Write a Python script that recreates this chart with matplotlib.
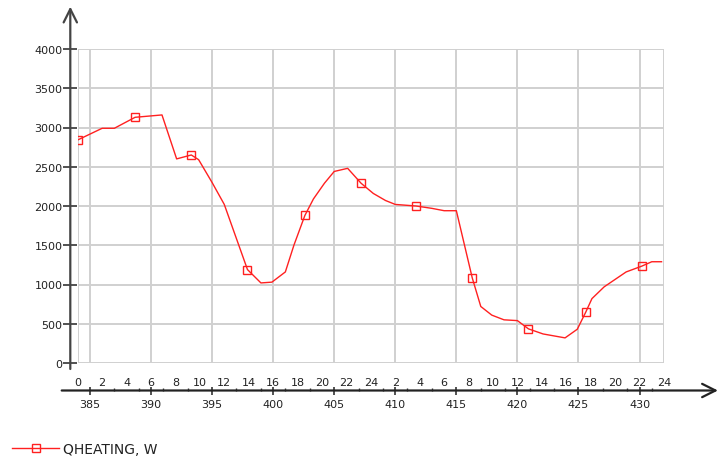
import matplotlib.pyplot as plt
from matplotlib.ticker import MultipleLocator, FixedLocator

# data (day, QHEATING in W)
days = [384.05, 386.0, 387.0, 388.7, 390.9, 392.1, 393.3, 393.9, 395.0, 396.0,
        396.8, 397.9, 399.0, 399.9, 401.0, 401.7, 402.6, 403.3, 404.2, 405.0,
        406.1, 407.2, 408.2, 409.2, 410.0, 411.7, 413.0, 414.0, 415.0, 416.3,
        417.0, 417.9, 418.9, 420.0, 420.9, 422.1, 423.9, 424.9, 425.6, 426.1,
        427.1, 428.9, 430.2, 431.0, 431.8]
qheating = [2845, 2990, 2990, 3130, 3160, 2600, 2650, 2590, 2300, 2020,
            1670, 1190, 1020, 1030, 1160, 1500, 1880, 2090, 2290, 2440,
            2480, 2290, 2160, 2070, 2020, 2000, 1970, 1940, 1940, 1085,
            720, 610, 550, 540, 435, 370, 320, 430, 650, 820,
            970, 1160, 1235, 1290, 1290]
marker_idx = [0, 3, 6, 11, 16, 21, 25, 29, 34, 38, 42]

day_ticks = list(range(385, 431, 5))
hour_pos = list(range(384, 433, 2))
hour_labels = ['0'] + [str((d - 385) % 24 + 1) for d in hour_pos[1:]]

W, H = 720, 460
fig = plt.figure(figsize=(7.2, 4.6), dpi=100)
ax = fig.add_axes([77.7 / W, 1 - 364 / H, (664 - 77.7) / W, (364 - 50) / H])

ax.plot(days, qheating, color='#ff2020', lw=1.0, marker='s', markersize=6,
        mfc='none', mec='#ff2020', mew=1.0, markevery=marker_idx,
        label='QHEATING, W', zorder=3)

ax.set_xlim(384, 432)
ax.set_ylim(0, 4000)

grid_c = '#d0d0d0'
ax.yaxis.set_major_locator(MultipleLocator(500))
ax.xaxis.set_major_locator(FixedLocator(day_ticks))
ax.xaxis.set_minor_locator(FixedLocator(list(range(385, 432, 2))))
ax.grid(True, which='major', color=grid_c, lw=1.4)
ax.axvline(384, color=grid_c, lw=1.4)
ax.axvline(432, color=grid_c, lw=1.4)

for s in ['top', 'right', 'left', 'bottom']:
    ax.spines[s].set_visible(False)
ax.spines['left'].set_position(('outward', 7.4 * 0.72))
ax.spines['bottom'].set_position(('outward', 27.5 * 0.72))

ax.tick_params(axis='y', direction='inout', length=10, width=1.2, color='#333333',
               pad=0.5, labelsize=8, labelcolor='#222222')
ax.tick_params(axis='x', which='major', direction='inout', length=6, width=1.2,
               color='#333333', pad=3, labelsize=8, labelcolor='#222222')
ax.tick_params(axis='x', which='minor', direction='in', length=2.2, width=1.0,
               color='#333333')

# hour labels above the x axis line
for p, lab in zip(hour_pos, hour_labels):
    ax.text(p, -0.06, lab, transform=ax.get_xaxis_transform(), ha='center',
            va='center', fontsize=8, color='#222222', clip_on=False)

# axis lines with arrows
y_ax = -27.5 / 314
x_ax = -7.4 / 586.3
ax.annotate('', xy=(1.092, y_ax), xytext=(-16 / 586.3, y_ax),
            xycoords='axes fraction', textcoords='axes fraction',
            arrowprops=dict(arrowstyle='->', color='#222222', lw=1.6,
                            mutation_scale=24, shrinkA=0, shrinkB=0),
            annotation_clip=False)
ax.annotate('', xy=(x_ax, 1.135), xytext=(x_ax, -6 / 314),
            xycoords='axes fraction', textcoords='axes fraction',
            arrowprops=dict(arrowstyle='->', color='#444444', lw=1.6,
                            mutation_scale=24, shrinkA=0, shrinkB=0),
            annotation_clip=False)

fig.legend(loc='center left', bbox_to_anchor=(12 / W, 1 - 449.7 / H),
           frameon=False, borderpad=0, borderaxespad=0, handlelength=3.4,
           handletextpad=0.3, fontsize=10, labelcolor='#222222')

fig.savefig('out.png', dpi=100)
